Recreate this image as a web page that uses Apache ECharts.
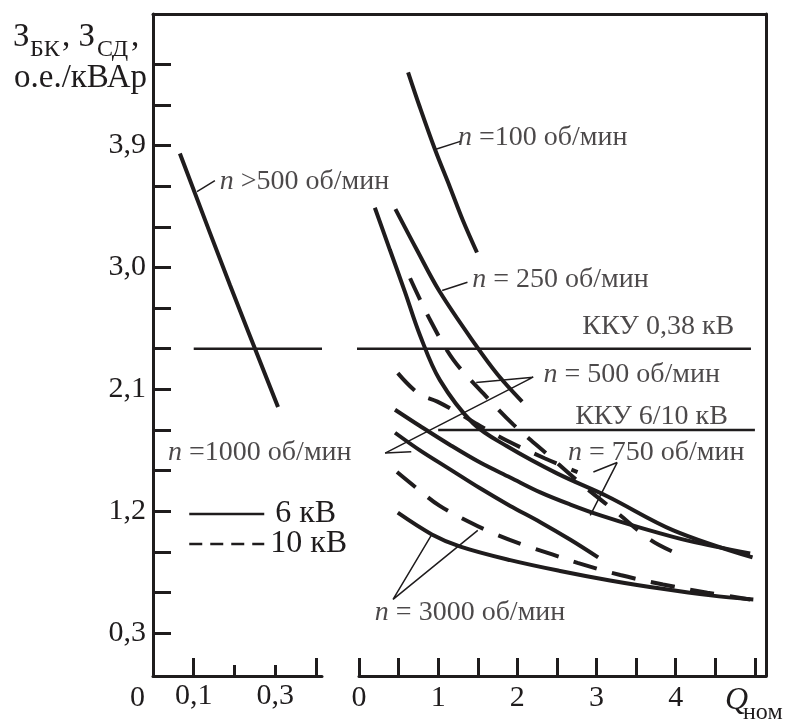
<!DOCTYPE html>
<html>
<head>
<meta charset="utf-8">
<script src="https://cdn.jsdelivr.net/npm/echarts@6/dist/echarts.min.js"></script>
<style>
  html, body { margin: 0; padding: 0; background: #fff; }
  #chart { width: 791px; height: 722px; }
</style>
</head>
<body>
<div id="chart"></div>
<script>
// ---- axis ticks and labels ----
const yTickValues  = [0.3, 0.6, 0.9, 1.2, 1.5, 1.8, 2.1, 2.4, 2.7, 3.0, 3.3, 3.6, 3.9, 4.2, 4.5];
const yLabelValues = [0.3, 1.2, 2.1, 3.0, 3.9];
const xLeftTallTicks  = [0.1, 0.4];
const xLeftShortTicks = [0.2, 0.3];
const xLeftLabels     = [0.1, 0.3];
const xRightTicks  = [0, 0.5, 1, 1.5, 2, 2.5, 3, 3.5, 4, 4.5, 5];
const xRightLabels = [0, 1, 2, 3, 4];

// ---- cost curves, left scale (Q up to 0.4) ----
const nAbove500 = [[0.066, 3.84], [0.189, 2.87], [0.307, 1.97]];

// ---- cost curves, right scale (Q up to 5) ----
const n100      = [[0.62, 4.44], [0.77, 4.18], [0.96, 3.87], [1.15, 3.59], [1.31, 3.35], [1.49, 3.11]];
const n250_6kV  = [[0.46, 3.43], [0.73, 3.13], [1.02, 2.82], [1.47, 2.43], [1.75, 2.21], [2.06, 2.01]];
const n250_10kV = [[0.645, 2.92], [0.90, 2.61], [1.19, 2.32], [1.57, 2.07], [1.95, 1.84], [2.38, 1.62],
                   [2.79, 1.41], [3.26, 1.19], [3.68, 0.99], [3.97, 0.90]];
const n500_6kV  = [[0.20, 3.44], [0.39, 3.13], [0.58, 2.82], [0.77, 2.50], [1.02, 2.17], [1.44, 1.85],
                   [1.87, 1.68], [2.50, 1.48], [3.14, 1.31], [3.97, 1.06], [4.97, 0.86]];
const n500_10kV = [[0.49, 2.22], [0.75, 2.07], [0.99, 2.01], [1.24, 1.93], [1.53, 1.83], [1.91, 1.71],
                   [2.35, 1.59], [2.76, 1.49]];
const n750_6kV  = [[0.455, 1.95], [0.77, 1.83], [1.15, 1.69], [1.53, 1.56], [1.91, 1.45], [2.29, 1.34],
                   [2.67, 1.25], [3.05, 1.17], [3.55, 1.08], [4.18, 0.98], [4.94, 0.89]];
const n1000_6kV = [[0.455, 1.78], [0.77, 1.65], [1.15, 1.51], [1.53, 1.37], [1.91, 1.24], [2.29, 1.12],
                   [2.67, 0.99], [3.02, 0.86]];
const n3000_10kV = [[0.48, 1.49], [0.71, 1.38], [1.02, 1.24], [1.40, 1.12], [1.69, 1.04], [2.04, 0.96],
                    [2.45, 0.88], [2.76, 0.82], [3.30, 0.73], [3.84, 0.66], [4.40, 0.60], [4.94, 0.55]];
const n3000_6kV  = [[0.49, 1.19], [0.92, 1.03], [1.28, 0.94], [1.91, 0.84], [2.54, 0.76], [3.17, 0.69],
                    [3.81, 0.63], [4.44, 0.58], [4.98, 0.55]];

// ---- compensation device cost levels ----
const kku038 = { level: 2.4, fromLeft: 0.1, toRight: 4.95 };
const kku610 = { level: 1.8, from: 1.0, to: 5.0 };

// ---- leader lines for curve captions ----
const leaderAbove500 = [[0.108, 3.56], [0.152, 3.64]];
const leaderN100  = [[0.96, 3.87], [1.28, 3.93]];
const leaderN250  = [[1.05, 2.83], [1.37, 2.89]];
const leaderN500  = [[1.48, 2.15], [2.20, 2.19], [0.33, 1.63]];
const leaderN1000 = [[0.66, 1.64], [0.33, 1.63]];
const leaderN750  = [[2.96, 1.49], [3.26, 1.56], [2.92, 1.17]];
const leaderN3000 = [[0.92, 1.03], [0.43, 0.55], [1.50, 1.06]];

// ---- captions: [text, x, y] (left edge, vertical centre) ----
const captionsLeft = [
  ['{i|n} >500 об/мин', 0.164, 3.63],
  ['{i|n} =1000 об/мин', 0.037, 1.63]
];
const captionsRight = [
  ['{i|n} =100 об/мин', 1.25, 3.96],
  ['{i|n} = 250 об/мин', 1.43, 2.91],
  ['ККУ 0,38 кВ', 2.82, 2.56],
  ['{i|n} = 500 об/мин', 2.33, 2.21],
  ['ККУ 6/10 кВ', 2.73, 1.90],
  ['{i|n} = 750 об/мин', 2.64, 1.63],
  ['{i|n} = 3000 об/мин', 0.20, 0.45]
];

// ---- layout ----
const INK = '#1f1c1d';
const FONT = '"Liberation Serif", "DejaVu Serif", serif';
const FS = 28;        // captions
const FS_TICK = 30;   // axis numbers
const FS_LEG = 32;    // legend
const FS_TITLE = 33;  // axis title
const FS_SUB = 24;    // subscripts
const PLOT = { left: 153, top: 14, right: 766, bottom: 676 };
const LEFT_END = 322, RIGHT_START = 359;
const Y_MIN = -0.015, Y_MAX = 4.87;
const XL_MAX = 0.415, XR_MAX = 5.14;
const rightPxPerUnit = (PLOT.right - RIGHT_START) / XR_MAX;
const gapStartRight = -(RIGHT_START - LEFT_END) / rightPxPerUnit;

const fmtComma = v => Number(v).toFixed(1).replace('.', ',');
const plotH = PLOT.bottom - PLOT.top;

function curve(name, data, side, dashed) {
  return {
    type: 'line', name, data, silent: true,
    xAxisIndex: side === 'L' ? 0 : 2, yAxisIndex: side === 'L' ? 0 : 1,
    smooth: 0.35, symbol: 'none', z: 4,
    itemStyle: { color: INK },
    lineStyle: { color: INK, width: 4, type: dashed ? [24, 16] : 'solid', cap: 'butt' }
  };
}
function thin(name, data, side, width, clip) {
  return {
    type: 'line', name, data, silent: true, clip: clip !== false,
    xAxisIndex: side === 'L' ? 0 : 2, yAxisIndex: side === 'L' ? 0 : 1,
    symbol: 'none', z: 3,
    itemStyle: { color: INK },
    lineStyle: { color: INK, width, type: 'solid' }
  };
}
function captions(list, side) {
  return {
    type: 'scatter', name: 'captions', silent: true, symbolSize: 0,
    xAxisIndex: side === 'L' ? 0 : 2, yAxisIndex: side === 'L' ? 0 : 1,
    data: list.map(c => ({ value: [c[1], c[2]], label: { formatter: c[0] } })),
    label: {
      show: true, position: 'right', distance: 0,
      color: INK, fontFamily: FONT, fontSize: FS,
      rich: { i: { fontStyle: 'italic', fontFamily: FONT, fontSize: FS, color: INK } }
    },
    z: 6
  };
}
function txt(text, left, top, size, italic) {
  return { type: 'text', left, top, silent: true,
    style: { text, fill: INK, font: (italic ? 'italic ' : '') + size + 'px ' + FONT } };
}

const chart = echarts.init(document.getElementById('chart'), null, { renderer: 'canvas' });

const axisLine = { show: true, onZero: false, lineStyle: { color: INK, width: 3 } };
const tickLabel = { color: INK, fontFamily: FONT, fontSize: FS_TICK };

chart.setOption({
  animation: false,
  backgroundColor: '#fff',
  grid: [
    { left: PLOT.left, top: PLOT.top, width: LEFT_END - PLOT.left, height: plotH },
    { left: RIGHT_START, top: PLOT.top, width: PLOT.right - RIGHT_START, height: plotH },
    { left: PLOT.left, top: PLOT.top, width: PLOT.right - PLOT.left, height: plotH }
  ],
  xAxis: [
    { type: 'value', gridIndex: 0, position: 'bottom', min: 0, max: XL_MAX,
      axisLine, splitLine: { show: false },
      axisTick: { inside: true, length: 18, customValues: xLeftTallTicks, lineStyle: { color: INK, width: 3 } },
      axisLabel: { ...tickLabel, margin: 5, customValues: xLeftLabels, formatter: fmtComma } },
    { type: 'value', gridIndex: 0, position: 'bottom', min: 0, max: XL_MAX,
      axisLine: { show: false, onZero: false }, splitLine: { show: false }, axisLabel: { show: false },
      axisTick: { inside: true, length: 11, customValues: xLeftShortTicks, lineStyle: { color: INK, width: 3 } } },
    { type: 'value', gridIndex: 1, position: 'bottom', min: 0, max: XR_MAX,
      axisLine, splitLine: { show: false },
      axisTick: { inside: true, length: 18, customValues: xRightTicks, lineStyle: { color: INK, width: 3 } },
      axisLabel: { ...tickLabel, margin: 7, customValues: xRightLabels, formatter: v => String(v) } },
    { type: 'value', gridIndex: 2, position: 'top', min: 0, max: 1,
      axisLine, splitLine: { show: false }, axisTick: { show: false }, axisLabel: { show: false } }
  ],
  yAxis: [
    { type: 'value', gridIndex: 0, position: 'left', min: Y_MIN, max: Y_MAX,
      axisLine, splitLine: { show: false },
      axisTick: { inside: true, length: 18, customValues: yTickValues, lineStyle: { color: INK, width: 3 } },
      axisLabel: { ...tickLabel, margin: 7, customValues: yLabelValues, formatter: fmtComma } },
    { type: 'value', gridIndex: 1, min: Y_MIN, max: Y_MAX, show: false },
    { type: 'value', gridIndex: 2, position: 'right', min: 0, max: 1,
      axisLine, splitLine: { show: false }, axisTick: { show: false }, axisLabel: { show: false } }
  ],
  legend: {
    data: [
      { name: '6 кВ', itemStyle: { opacity: 0 }, lineStyle: { width: 2.5, type: 'solid' },
        textStyle: { padding: [8, 0, 0, 6] } },
      { name: '10 кВ', itemStyle: { opacity: 0 }, lineStyle: { width: 2.5, type: [13, 8] },
        textStyle: { padding: [8, 0, 0, 1] } }
    ],
    orient: 'vertical', left: 188, top: 498, padding: 0,
    itemWidth: 75, itemHeight: 30, itemGap: -2,
    selectedMode: false,
    textStyle: { color: INK, fontFamily: FONT, fontSize: FS_LEG, lineHeight: 22 }
  },
  graphic: [
    // axis title: З_БК, З_СД, / о.е./кВАр
    txt('З', 13, 21, FS_TITLE),
    txt('БК', 30, 38, FS_SUB),
    txt(', З', 62, 21, FS_TITLE),
    txt('СД', 97, 38, FS_SUB),
    txt(',', 131, 21, FS_TITLE),
    txt('о.е./кВАр', 14, 62, FS_TITLE),
    // common origin mark
    txt('0', 130, 683, FS_TICK),
    // x-axis name Q_ном
    txt('Q', 725, 685, 32, true),
    txt('ном', 743, 701, FS_SUB)
  ],
  series: [
    curve('6 кВ', n3000_6kV, 'R', false),
    curve('10 кВ', n3000_10kV, 'R', true),
    curve('6 кВ', nAbove500, 'L', false),
    curve('6 кВ', n100, 'R', false),
    curve('6 кВ', n250_6kV, 'R', false),
    curve('10 кВ', n250_10kV, 'R', true),
    curve('6 кВ', n500_6kV, 'R', false),
    curve('10 кВ', n500_10kV, 'R', true),
    curve('6 кВ', n750_6kV, 'R', false),
    curve('6 кВ', n1000_6kV, 'R', false),
    thin('ККУ 0,38 кВ', [[kku038.fromLeft, kku038.level], [XL_MAX, kku038.level]], 'L', 2.5),
    thin('ККУ 0,38 кВ', [[gapStartRight, kku038.level], [kku038.toRight, kku038.level]], 'R', 2.5, false),
    thin('ККУ 6/10 кВ', [[kku610.from, kku610.level], [kku610.to, kku610.level]], 'R', 2.5),
    thin('leader', leaderAbove500, 'L', 1.5),
    thin('leader', leaderN100, 'R', 1.5),
    thin('leader', leaderN250, 'R', 1.5),
    thin('leader', leaderN500, 'R', 1.5),
    thin('leader', leaderN1000, 'R', 1.5),
    thin('leader', leaderN750, 'R', 1.5),
    thin('leader', leaderN3000, 'R', 1.5),
    captions(captionsLeft, 'L'),
    captions(captionsRight, 'R')
  ]
});
</script>
</body>
</html>
